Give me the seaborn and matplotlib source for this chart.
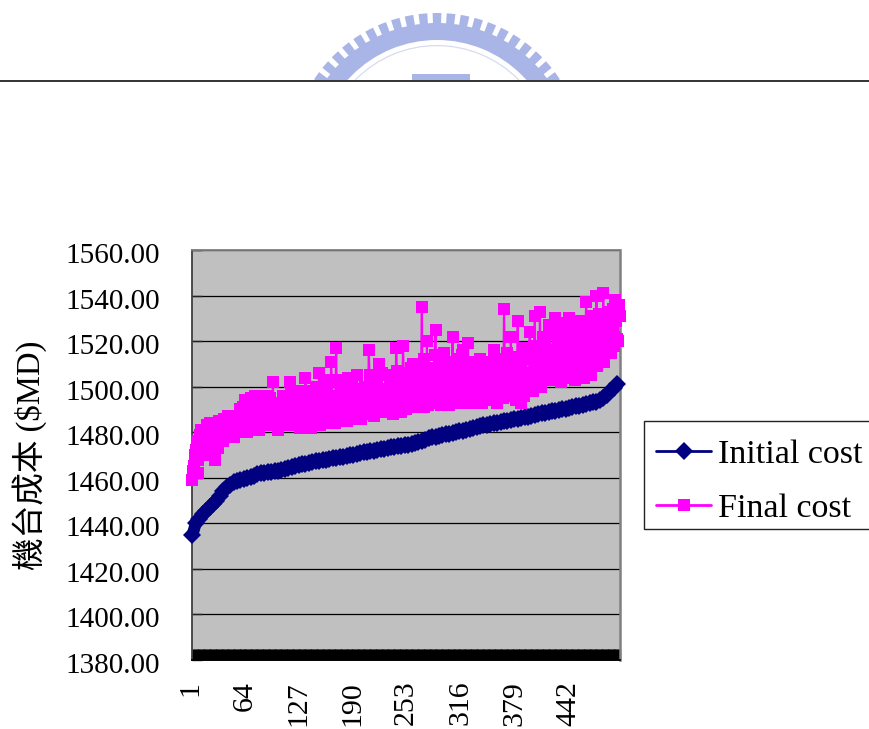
import numpy as np
import matplotlib
matplotlib.use("Agg")
import matplotlib.pyplot as plt
import matplotlib.transforms as mtrans
from matplotlib.lines import Line2D
from matplotlib.patches import Wedge, Rectangle
import seaborn as sns

W, H = 870, 729
SERIF = ["Liberation Serif", "Noto Sans CJK TC", "DejaVu Sans"]

y_ticks = [1380, 1400, 1420, 1440, 1460, 1480, 1500, 1520, 1540, 1560]
x_tick_labels = [1, 64, 127, 190, 253, 316, 379, 442]
y_label = "機台成本 ($MD)"
initial_label = "Initial cost"
final_label = "Final cost"
n_cases = 500

# read every 4th case
initial_cost = [
    1435, 1440, 1442, 1444, 1445.5, 1447, 1448.5, 1450, 1452, 1454,
    1456, 1457, 1458, 1458.5, 1459, 1459.5, 1460, 1460.5, 1461, 1461.5,
    1462, 1462.2, 1462.4, 1462.6, 1462.8, 1463, 1463.4, 1463.8, 1464.3, 1464.7,
    1465.1, 1465.5, 1465.9, 1466.2, 1466.6, 1467, 1467.2, 1467.5, 1467.8, 1468,
    1468.2, 1468.5, 1468.8, 1469, 1469.3, 1469.6, 1469.9, 1470.2, 1470.5, 1470.9,
    1471.2, 1471.5, 1471.7, 1471.9, 1472.2, 1472.5, 1472.8, 1473, 1473.3, 1473.5,
    1473.8, 1474, 1474.3, 1474.6, 1475, 1475.4, 1475.9, 1476.3, 1476.8, 1477.3,
    1477.7, 1478.1, 1478.4, 1478.8, 1479.1, 1479.4, 1479.8, 1480.1, 1480.4, 1480.7,
    1481, 1481.4, 1481.8, 1482.2, 1482.6, 1483, 1483.3, 1483.6, 1483.9, 1484.2,
    1484.5, 1484.8, 1485.1, 1485.4, 1485.7, 1486, 1486.3, 1486.6, 1486.9, 1487.2,
    1487.6, 1488, 1488.3, 1488.6, 1488.9, 1489.2, 1489.5, 1489.8, 1490.1, 1490.4,
    1490.7, 1491, 1491.3, 1491.6, 1492, 1492.4, 1492.8, 1493.1, 1493.4, 1494,
    1495, 1496.5, 1498, 1499.5, 1501,
]
initial_case = list(range(1, n_cases + 1, 4))

# odd-numbered cases
final_cost_odd = [
    1459, 1465, 1472, 1462, 1476, 1481, 1470, 1478, 1474, 1482, 1483, 1475, 1478, 1468, 1484, 1473, 1480, 1485, 1476, 1484, 1481, 1487, 1478, 1486, 1483,
    1480, 1486, 1482, 1490, 1484, 1487, 1494, 1480, 1491, 1495, 1483, 1488, 1486, 1492, 1481, 1495, 1485, 1489, 1496, 1483, 1490, 1487, 1502, 1493, 1484,
    1481, 1490, 1485, 1496, 1484, 1492, 1488, 1502, 1483, 1494, 1487, 1490, 1498, 1482, 1491, 1486, 1504, 1488, 1495, 1482, 1493, 1489, 1500, 1485, 1506,
    1484, 1497, 1490, 1503, 1486, 1495, 1511, 1489, 1484, 1517, 1503, 1487, 1494, 1490, 1500, 1485, 1504, 1492, 1488, 1498, 1493, 1505, 1486, 1495, 1490,
    1488, 1500, 1493, 1516, 1490, 1497, 1487, 1503, 1494, 1510, 1491, 1499, 1489, 1505, 1495, 1492, 1501, 1488, 1497, 1517, 1493, 1503, 1489, 1518, 1496,
    1490, 1506, 1494, 1501, 1510, 1492, 1498, 1496, 1504, 1535, 1491, 1503, 1520, 1497, 1508, 1493, 1501, 1525, 1495, 1510, 1492, 1504, 1515, 1496, 1499,
    1492, 1507, 1522, 1498, 1493, 1512, 1501, 1495, 1516, 1494, 1506, 1519, 1497, 1509, 1493, 1503, 1500, 1495, 1512, 1493, 1505, 1498, 1510, 1494, 1502,
    1495, 1516, 1500, 1493, 1508, 1497, 1503, 1534, 1496, 1515, 1501, 1522, 1499, 1510, 1494, 1529, 1503, 1493, 1517, 1500, 1512, 1498, 1524, 1505, 1498,
    1531, 1508, 1502, 1533, 1511, 1504, 1520, 1506, 1527, 1503, 1514, 1508, 1530, 1505, 1518, 1502, 1528, 1510, 1522, 1507, 1530, 1509, 1516, 1504, 1525,
    1510, 1529, 1506, 1521, 1508, 1537, 1512, 1525, 1505, 1531, 1510, 1540, 1518, 1527, 1512, 1541, 1522, 1515, 1533, 1520, 1530, 1518, 1538, 1521, 1536,
]
# even-numbered cases
final_cost_even = [
    1463, 1470, 1476, 1468, 1479, 1474, 1481, 1477, 1483, 1476, 1484, 1479, 1472, 1482, 1477, 1485, 1479, 1483, 1486, 1478, 1485, 1480, 1487, 1482, 1478,
    1485, 1481, 1488, 1483, 1491, 1486, 1482, 1489, 1493, 1484, 1490, 1496, 1487, 1482, 1492, 1488, 1494, 1484, 1491, 1486, 1495, 1483, 1489, 1493, 1486,
    1492, 1483, 1488, 1495, 1486, 1491, 1484, 1497, 1489, 1493, 1485, 1496, 1490, 1484, 1494, 1488, 1492, 1498, 1486, 1491, 1485, 1496, 1488, 1494, 1483,
    1491, 1486, 1499, 1488, 1494, 1484, 1502, 1490, 1496, 1486, 1493, 1500, 1488, 1495, 1486, 1498, 1491, 1487, 1503, 1493, 1489, 1499, 1492, 1486, 1496,
    1492, 1498, 1489, 1505, 1494, 1488, 1501, 1492, 1497, 1489, 1506, 1493, 1499, 1490, 1496, 1503, 1491, 1498, 1493, 1507, 1489, 1500, 1494, 1505, 1491,
    1499, 1493, 1508, 1496, 1503, 1491, 1510, 1498, 1505, 1493, 1512, 1497, 1492, 1506, 1499, 1494, 1514, 1502, 1493, 1508, 1497, 1503, 1494, 1511, 1500,
    1495, 1511, 1498, 1504, 1493, 1509, 1497, 1514, 1502, 1493, 1508, 1498, 1504, 1494, 1511, 1499, 1493, 1505, 1497, 1510, 1495, 1502, 1507, 1496, 1511,
    1498, 1506, 1494, 1512, 1499, 1504, 1495, 1510, 1501, 1496, 1508, 1504, 1497, 1513, 1502, 1498, 1510, 1504, 1496, 1515, 1503, 1499, 1512, 1506, 1518,
    1502, 1517, 1507, 1500, 1522, 1509, 1503, 1516, 1510, 1504, 1523, 1512, 1506, 1519, 1509, 1524, 1504, 1515, 1511, 1526, 1506, 1518, 1512, 1503, 1520,
    1508, 1519, 1513, 1504, 1524, 1510, 1518, 1507, 1528, 1513, 1522, 1509, 1532, 1516, 1525, 1511, 1530, 1519, 1526, 1515, 1534, 1522, 1529, 1520, 1531,
]
final_case = list(range(1, n_cases + 1))
final_cost = [v for pair in zip(final_cost_odd, final_cost_even) for v in pair]

sns.set_style("white")
plt.rcParams["font.family"] = SERIF
plt.rcParams["text.color"] = "black"
plt.rcParams["xtick.labelcolor"] = "black"
plt.rcParams["ytick.labelcolor"] = "black"

fig = plt.figure(figsize=(W / 100, H / 100), dpi=100, facecolor="white")

# watermark seal, header rule and legend box, in pixel coordinates
bg = fig.add_axes([0, 0, 1, 1], zorder=0)
bg.set_xlim(0, W)
bg.set_ylim(H, 0)
bg.axis("off")
seal = "#A9B5E6"
cx, cy = 437, 160
clip = Rectangle((0, 0), W, 81, transform=bg.transData)
ring = Wedge((cx, cy), 137, 0, 360, width=17, fc=seal, ec="none")
bg.add_patch(ring)
ring.set_clip_path(clip)
for a in np.arange(-90 - 5.5 * 10, -90 + 5.5 * 10 + 0.1, 5.5):
    tooth = Wedge((cx, cy), 147, a - 1.7, a + 1.7, width=12, fc=seal, ec="none")
    bg.add_patch(tooth)
    tooth.set_clip_path(clip)
inner = Wedge((cx, cy), 115, 0, 360, width=1.2, fc="#D5DAEE", ec="none")
bg.add_patch(inner)
inner.set_clip_path(clip)
bg.add_patch(Rectangle((412, 74), 58, 7, fc=seal, ec="none"))
bg.add_line(Line2D([0, W], [81, 81], color="#333333", lw=1.4))
bg.add_patch(Rectangle((644, 421), 240, 108, fc="white", ec="#222222", lw=1))

ax = fig.add_axes([192 / W, 1 - 660 / H, (620 - 192) / W, (660 - 250) / H], zorder=1)
ax.set_facecolor("#C0C0C0")
ax.set_axisbelow(True)

sns.lineplot(x=initial_case, y=initial_cost, ax=ax, color="#000080", lw=8.5,
             marker="D", markersize=8.7, markeredgewidth=0, label=initial_label,
             estimator=None, sort=False, clip_on=False, zorder=3)
sns.lineplot(x=final_case, y=final_cost, ax=ax, color="#FF00FF", lw=1.5,
             marker="s", markersize=8, markeredgewidth=0, label=final_label,
             estimator=None, sort=False, clip_on=False, zorder=4)

ax.set_xlim(0.5, n_cases + 0.5)
ax.set_ylim(y_ticks[0], y_ticks[-1])
ax.set_xlabel("")

ax.set_yticks(y_ticks)
ax.set_yticklabels([f"{v:.2f}" for v in y_ticks], fontsize=21, family=SERIF)
ax.tick_params(axis="y", direction="in", length=7.5, width=1, color="#222222",
               pad=23, left=True, labelleft=True)
ax.grid(axis="y", color="black", lw=0.9)
ax.grid(axis="x", visible=False)

ax.set_xticks(x_tick_labels)
ax.set_xticklabels([str(v) for v in x_tick_labels], rotation=90, fontsize=21.5,
                   family=SERIF)
ax.set_xticks(np.arange(1, n_cases + 1), minor=True)
ax.tick_params(axis="x", which="both", direction="in", length=8, width=1,
               color="black", bottom=True)
ax.tick_params(axis="x", which="major", pad=15)

dy = mtrans.ScaledTranslation(0, -3 / 100, fig.dpi_scale_trans)
for t in ax.get_yticklabels():
    t.set_transform(t.get_transform() + dy)
dx = mtrans.ScaledTranslation(-2 / 100, 0, fig.dpi_scale_trans)
for t in ax.get_xticklabels():
    t.set_transform(t.get_transform() + dx)

for side, c, lw in [("left", "#404040", 1.3), ("top", "#808080", 1.3),
                    ("right", "#808080", 1.8), ("bottom", "black", 1.3)]:
    ax.spines[side].set_visible(True)
    ax.spines[side].set_color(c)
    ax.spines[side].set_linewidth(lw)

fig.text(30 / W, 1 - 455 / H, y_label, rotation=90, ha="center", va="center",
         fontsize=23.5, family=SERIF, color="black")

leg = ax.legend(loc="upper left", bbox_to_anchor=(656 / W, 1 - 439 / H),
                bbox_transform=fig.transFigure, borderaxespad=0,
                prop={"family": SERIF, "size": 24.5}, frameon=False,
                handlelength=1.62, handletextpad=0.2, labelspacing=0.68,
                borderpad=0)
leg.set_clip_on(False)
leg.legend_handles[0].set_linewidth(2)
leg.legend_handles[1].set_linewidth(2)
for t in leg.get_texts():
    t.set_color("black")

fig.savefig("out.png", dpi=100)
